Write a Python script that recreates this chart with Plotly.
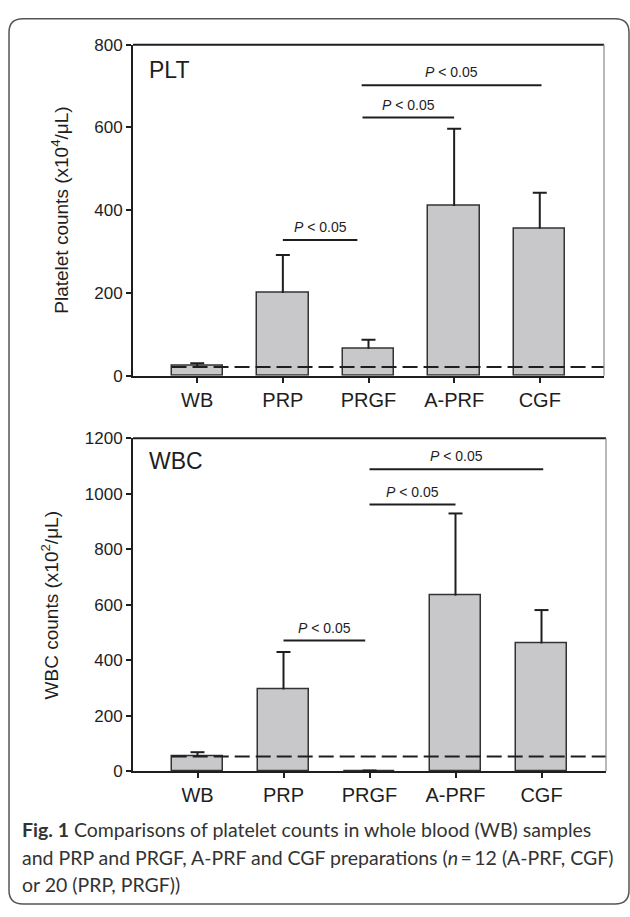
import plotly.graph_objects as go

W, H = 630, 917

categories = ["WB", "PRP", "PRGF", "A-PRF", "CGF"]

plt_means = [23, 200, 65, 410, 356]
plt_sd = [7, 92, 22, 187, 86]
plt_baseline = 21
plt_sig_x = [[1.0, 1.87], [1.93, 3.0], [1.92, 4.02]]
plt_sig_y = [328, 624, 702]

wbc_means = [56, 295, 0.5, 633, 461]
wbc_sd = [13, 135, 3, 296, 120]
wbc_baseline = 54
wbc_sig_x = [[1.0, 1.95], [2.0, 3.0], [2.0, 4.02]]
wbc_sig_y = [471, 961, 1088]

plt_ticks = [0, 200, 400, 600, 800]
wbc_ticks = [0, 200, 400, 600, 800, 1000, 1200]

sig_label = "<i>P</i> < 0.05"

BAR_FILL = "#c8c8ca"
DARK = "#1e1e1e"
FONT = "Liberation Sans, Arial, sans-serif"


def px_x(p):
    return p / W


def px_y(p):
    return 1 - p / H


fig = go.Figure()

panels = [
    dict(means=plt_means, sd=plt_sd, base=plt_baseline, sx=plt_sig_x, sy=plt_sig_y,
         xa="x", ya="y"),
    dict(means=wbc_means, sd=wbc_sd, base=wbc_baseline, sx=wbc_sig_x, sy=wbc_sig_y,
         xa="x2", ya="y2"),
]

xs = list(range(len(categories)))

for p in panels:
    xa, ya = p["xa"], p["ya"]
    fig.add_trace(go.Bar(
        x=xs, y=p["means"], width=0.6,
        marker=dict(color=BAR_FILL, line=dict(color="#333333", width=1.5)),
        error_y=dict(type="data", array=p["sd"], arrayminus=[0] * 5, symmetric=False,
                     color=DARK, thickness=2, width=0),
        xaxis=xa, yaxis=ya, showlegend=False, opacity=1))
    # caps on the upper error bars only
    tops = [m + s for m, s in zip(p["means"], p["sd"])]
    fig.add_trace(go.Scatter(
        x=xs, y=tops, mode="markers",
        marker=dict(symbol="line-ew", size=10, line=dict(color=DARK, width=2)),
        xaxis=xa, yaxis=ya, showlegend=False, hoverinfo="skip"))
    # baseline dashed line
    fig.add_trace(go.Scatter(
        x=[-0.3, 4.75], y=[p["base"], p["base"]], mode="lines",
        line=dict(color=DARK, width=2, dash="15px,6px"),
        xaxis=xa, yaxis=ya, showlegend=False, hoverinfo="skip"))
    for sx, sy in zip(p["sx"], p["sy"]):
        fig.add_trace(go.Scatter(
            x=sx, y=[sy, sy], mode="lines", line=dict(color=DARK, width=2),
            xaxis=xa, yaxis=ya, showlegend=False, hoverinfo="skip"))

for sx, sy in zip(plt_sig_x, plt_sig_y):
    fig.add_annotation(x=(sx[0] + sx[1]) / 2, y=sy, xref="x", yref="y",
                       text=sig_label, showarrow=False, yanchor="bottom", yshift=3,
                       font=dict(size=14, color=DARK, family=FONT))
for sx, sy in zip(wbc_sig_x, wbc_sig_y):
    fig.add_annotation(x=(sx[0] + sx[1]) / 2, y=sy, xref="x2", yref="y2",
                       text=sig_label, showarrow=False, yanchor="bottom", yshift=3,
                       font=dict(size=14, color=DARK, family=FONT))

axis_common = dict(showgrid=False, zeroline=False, showline=True, linecolor=DARK,
                   linewidth=2, ticks="outside", ticklen=5, tickwidth=2, tickcolor=DARK)
yfont = dict(size=17, color=DARK, family=FONT)
xfont = dict(size=20, color=DARK, family=FONT)

fig.update_layout(
    width=W, height=H, margin=dict(l=0, r=0, t=0, b=0),
    paper_bgcolor="white", plot_bgcolor="white", bargap=0,
    font=dict(family=FONT, color=DARK),
    xaxis=dict(domain=[px_x(133), px_x(604)], range=[-0.75, 4.75], anchor="y",
               tickmode="array", tickvals=xs, ticktext=categories, tickfont=xfont,
               **axis_common),
    yaxis=dict(domain=[px_y(374.5), px_y(36.5)], range=[0, 800], anchor="x",
               tickmode="array", tickvals=plt_ticks, tickfont=yfont, **axis_common),
    xaxis2=dict(domain=[px_x(133), px_x(606)], range=[-0.75, 4.75], anchor="y2",
                tickmode="array", tickvals=xs, ticktext=categories, tickfont=xfont,
                **axis_common),
    yaxis2=dict(domain=[px_y(778.5), px_y(438.3)], range=[0, 1200], anchor="x2",
                tickmode="array", tickvals=wbc_ticks, tickfont=yfont, **axis_common),
)

# top (thick) and right (thin gray) frame lines
for xr, yr in [("x domain", "y domain"), ("x2 domain", "y2 domain")]:
    fig.add_shape(type="line", xref=xr, yref=yr, x0=0, x1=1, y0=1, y1=1,
                  line=dict(color=DARK, width=2))
    fig.add_shape(type="line", xref=xr, yref=yr, x0=1, x1=1, y0=0, y1=1,
                  line=dict(color="#8a8a8a", width=1.2))

# panel labels
fig.add_annotation(x=px_x(147), y=px_y(62), xref="paper", yref="paper", text="PLT",
                   showarrow=False, xanchor="left", yanchor="middle",
                   font=dict(size=23, color=DARK, family=FONT))
fig.add_annotation(x=px_x(147), y=px_y(462), xref="paper", yref="paper", text="WBC",
                   showarrow=False, xanchor="left", yanchor="middle",
                   font=dict(size=23, color=DARK, family=FONT))

# y-axis titles
fig.add_annotation(x=px_x(60), y=px_y(206), xref="paper", yref="paper",
                   text="Platelet counts (x10<sup>4</sup>/μL)", textangle=-90,
                   showarrow=False, xanchor="center", yanchor="middle",
                   font=dict(size=19, color=DARK, family=FONT))
fig.add_annotation(x=px_x(50), y=px_y(609), xref="paper", yref="paper",
                   text="WBC counts (x10<sup>2</sup>/μL)", textangle=-90,
                   showarrow=False, xanchor="center", yanchor="middle",
                   font=dict(size=19, color=DARK, family=FONT))

# caption
caption_lines = [
    "<b>Fig. 1</b> Comparisons of platelet counts in whole blood (WB) samples",
    "and PRP and PRGF, A-PRF and CGF preparations (<i>n</i>\u2009=\u200912 (A-PRF, CGF)",
    "or 20 (PRP, PRGF))",
]
caption_y = [838, 866, 894]
for line, cy in zip(caption_lines, caption_y):
    fig.add_annotation(x=px_x(20), y=px_y(cy), xref="paper", yref="paper", text=line,
                       showarrow=False, xanchor="left", yanchor="middle", align="left",
                       font=dict(size=19.5, color="#333333", family="Lato, sans-serif"))

# rounded outer border
x0, x1 = px_x(9), px_x(629)
y0, y1 = px_y(914), px_y(10)
rx, ry = 14 / W, 14 / H
path = (f"M {x0+rx},{y1} L {x1-rx},{y1} Q {x1},{y1} {x1},{y1-ry} "
        f"L {x1},{y0+ry} Q {x1},{y0} {x1-rx},{y0} "
        f"L {x0+rx},{y0} Q {x0},{y0} {x0},{y0+ry} "
        f"L {x0},{y1-ry} Q {x0},{y1} {x0+rx},{y1} Z")
fig.add_shape(type="path", path=path, xref="paper", yref="paper",
              line=dict(color="#555555", width=1.5))

fig.write_html("out.html")
